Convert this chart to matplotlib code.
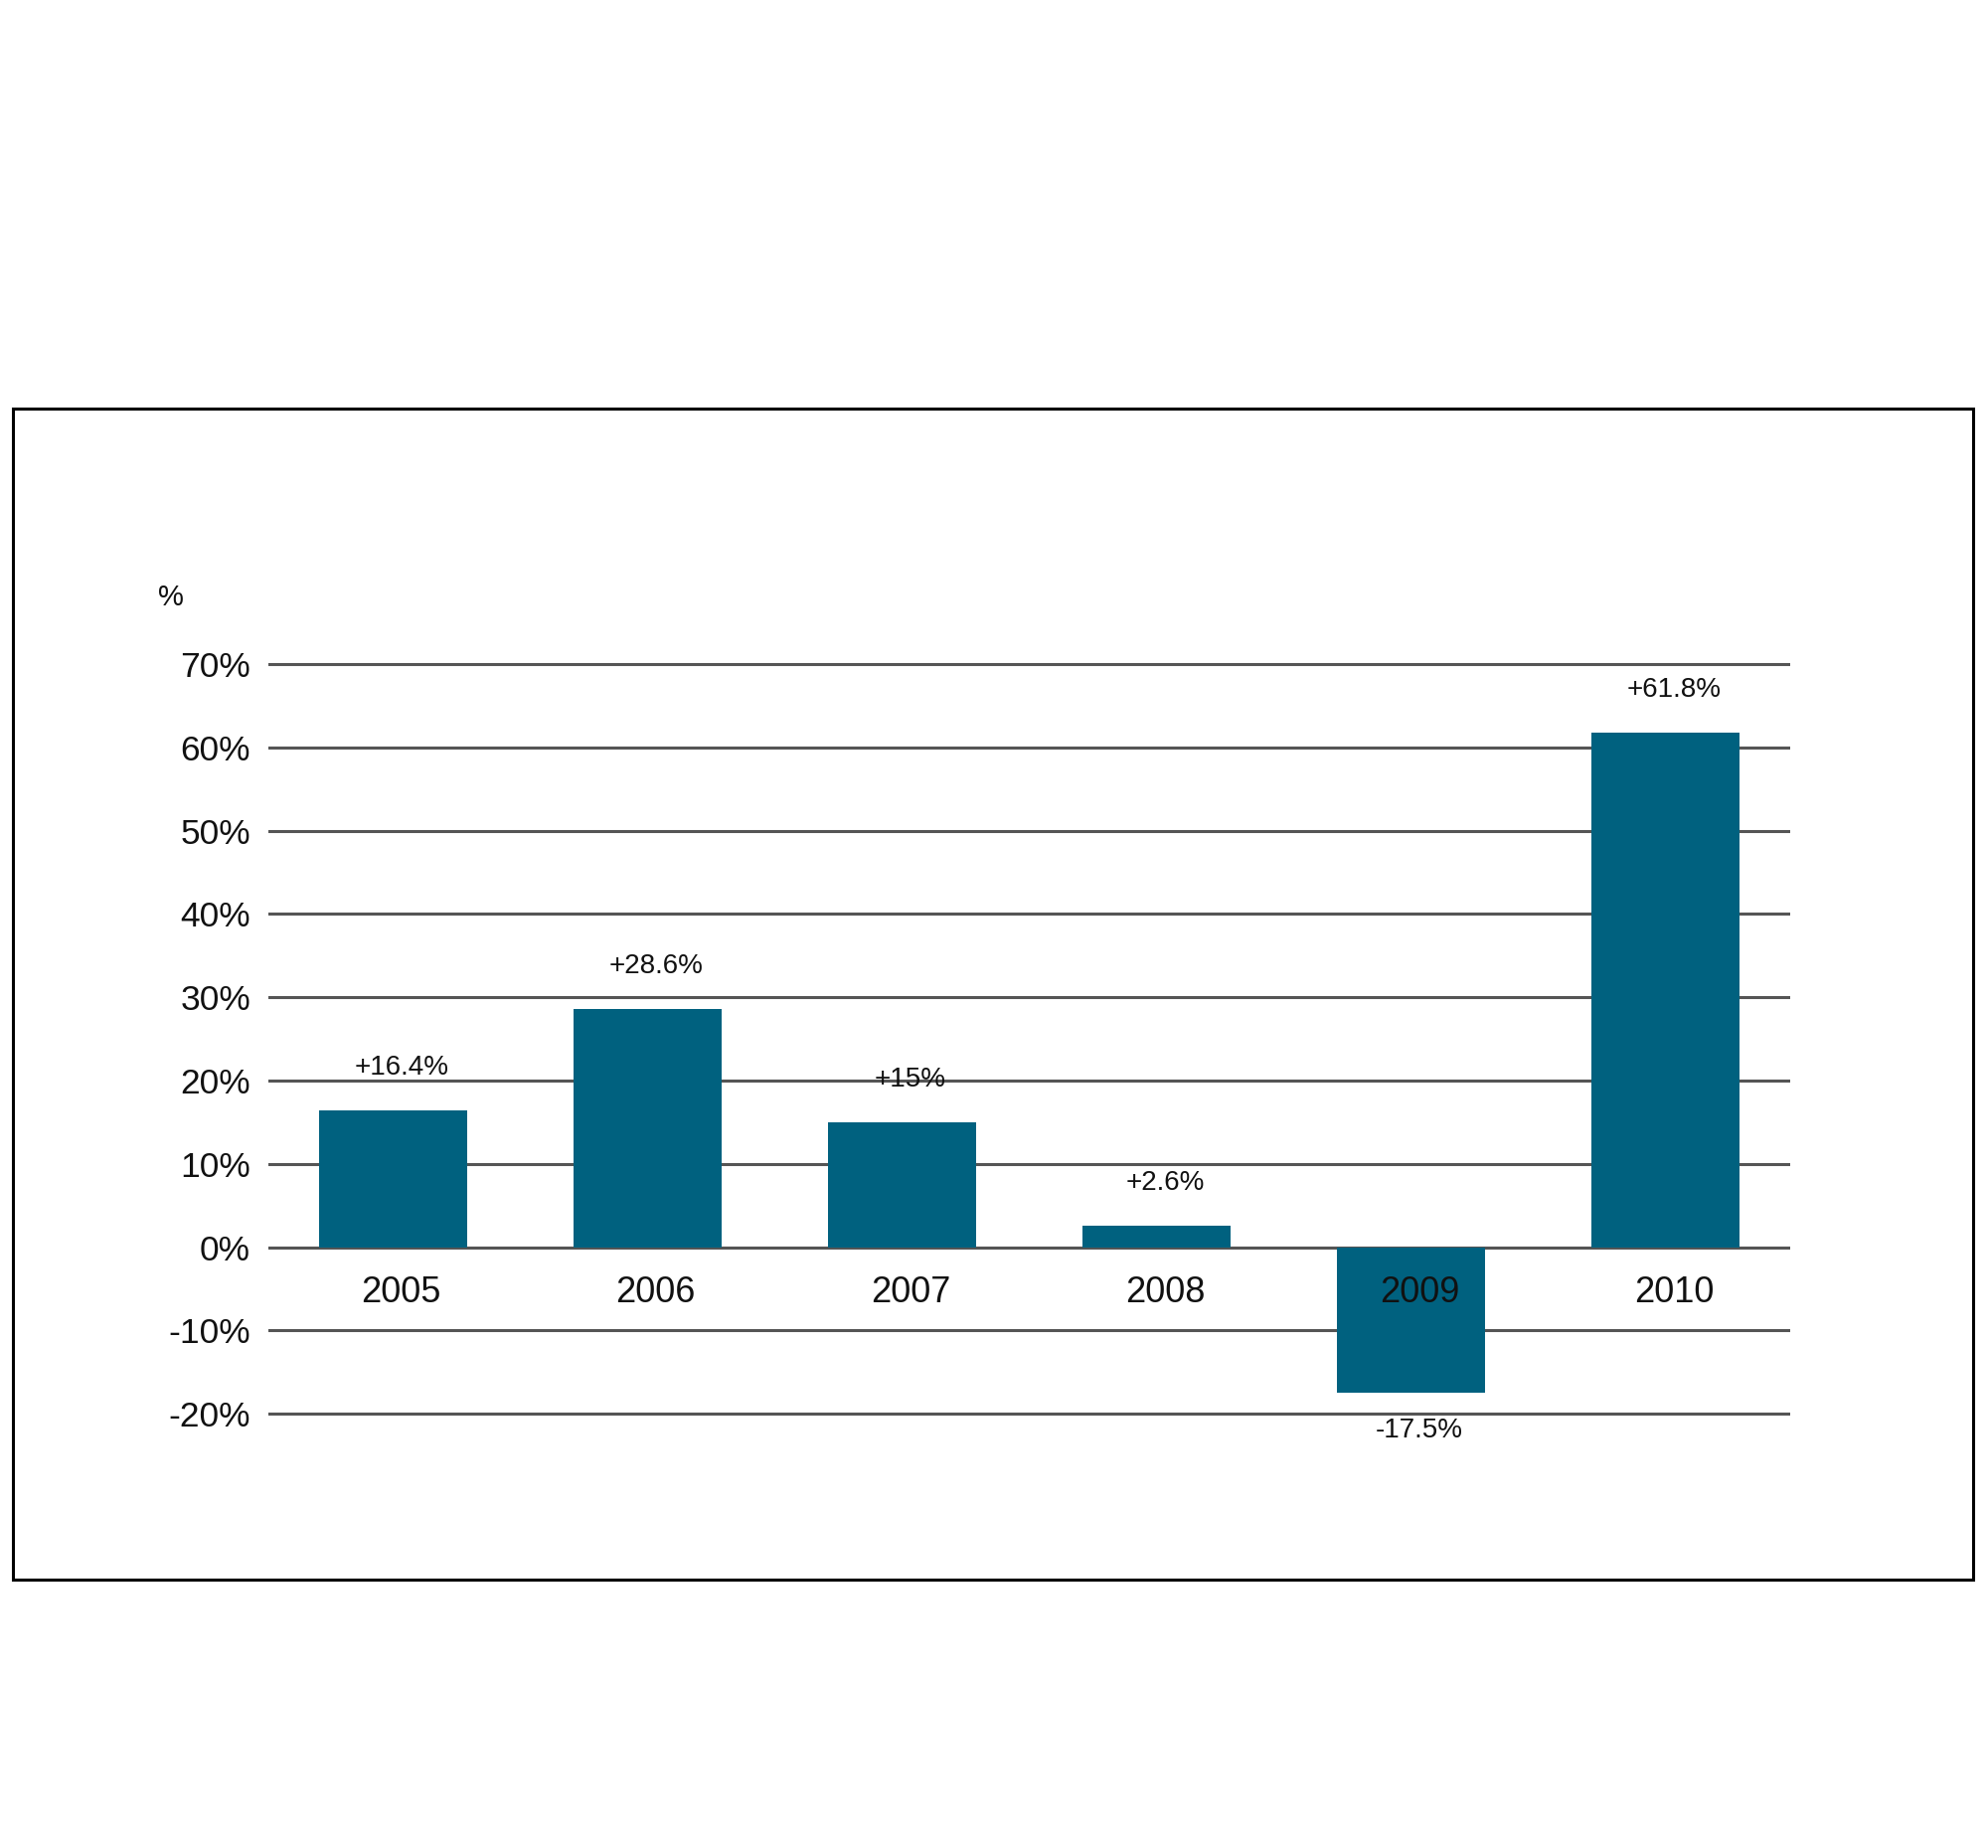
import matplotlib
matplotlib.use("Agg")
import matplotlib.pyplot as plt
from matplotlib.patches import Rectangle

# data
years = ["2005", "2006", "2007", "2008", "2009", "2010"]
growth = [16.4, 28.6, 15.0, 2.6, -17.5, 61.8]
value_labels = ["+16.4%", "+28.6%", "+15%", "+2.6%", "-17.5%", "+61.8%"]
yticks = [-20, -10, 0, 10, 20, 30, 40, 50, 60, 70]
ytick_labels = ["-20%", "-10%", "0%", "10%", "20%", "30%", "40%", "50%", "60%", "70%"]

BAR = "#00617f"
GRID = "#555555"
FONT = ["Liberation Sans", "DejaVu Sans"]

plt.rcParams["font.family"] = FONT

fig = plt.figure(figsize=(20, 18.59), dpi=100)
fig.patch.set_facecolor("white")

# outer frame
fig.add_artist(Rectangle((13 / 2000, 1 - 1589 / 1859), (1985 - 13) / 2000,
                         (1589 - 411) / 1859, transform=fig.transFigure,
                         fill=False, edgecolor="black", linewidth=2.2))

ax = fig.add_axes([0.135, 0.2332, 0.7655, 0.4093])
xs = list(range(len(years)))
ax.bar(xs, growth, width=0.58, color=BAR, zorder=3)

ax.set_xlim(-0.49, 5.49)
ax.set_ylim(-20.4, 70.4)
ax.set_yticks(yticks)
ax.set_yticklabels(ytick_labels, fontsize=25.5, color="#111111")
ax.set_xticks([])
ax.tick_params(axis="y", length=0, pad=13)
ax.grid(axis="y", color=GRID, linewidth=2.2, zorder=1)
ax.set_axisbelow(True)
for s in ax.spines.values():
    s.set_visible(False)

# year labels sit just under the zero line
for x, yr in zip(xs, years):
    ax.annotate(yr, xy=(x, 0), xytext=(6, -33), textcoords="offset points",
                ha="center", va="center", fontsize=26, color="#111111", zorder=5)

# value labels above (or below) each bar
for x, v, lab in zip(xs, growth, value_labels):
    dy = 31 if v >= 0 else -27
    ax.annotate(lab, xy=(x, v), xytext=(6, dy), textcoords="offset points",
                ha="center", va="center", fontsize=20, color="#111111")

fig.text(172 / 2000, 1 - 601 / 1859, "%", fontsize=21, ha="center", va="center",
         color="#111111")

fig.savefig("out.png", dpi=100, facecolor="white")
